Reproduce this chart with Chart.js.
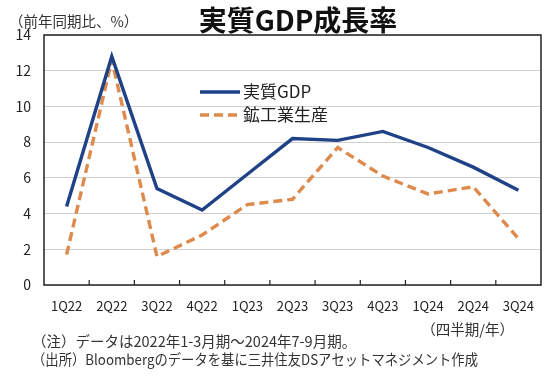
<!DOCTYPE html>
<html lang="ja">
<head>
<meta charset="UTF-8">
<title>実質GDP成長率</title>
<script src="https://cdn.jsdelivr.net/npm/chart.js"></script>
<style>
  html, body { margin: 0; padding: 0; background: #fff; }
  #wrap { width: 550px; height: 376px; position: relative; }
</style>
</head>
<body>
<div id="wrap"><canvas id="chart" width="550" height="376"></canvas></div>
<script>
const quarters = ['1Q22','2Q22','3Q22','4Q22','1Q23','2Q23','3Q23','4Q23','1Q24','2Q24','3Q24'];
const gdp = [4.4, 12.8, 5.4, 4.2, 6.2, 8.2, 8.1, 8.6, 7.7, 6.6, 5.3];
const industry = [1.7, 12.6, 1.6, 2.8, 4.5, 4.8, 7.7, 6.1, 5.1, 5.5, 2.6];
const yTicks = [0, 2, 4, 6, 8, 10, 12, 14];

const FONT = '"Noto Sans CJK JP", "Noto Sans", sans-serif';
const NAVY = '#1f4287';
const ORANGE = '#de8a4c';

const extras = {
  id: 'extras',
  afterDraw(chart) {
    const ctx = chart.ctx, a = chart.chartArea, x = chart.scales.x;
    ctx.save();
    // frame
    ctx.strokeStyle = '#222';
    ctx.lineWidth = 1.5;
    ctx.strokeRect(a.left, a.top, a.right - a.left, a.bottom - a.top);
    // inward category tick marks
    ctx.lineWidth = 1.2;
    for (let i = 1; i < quarters.length; i++) {
      const px = (x.getPixelForValue(i - 1) + x.getPixelForValue(i)) / 2;
      ctx.beginPath();
      ctx.moveTo(px, a.bottom);
      ctx.lineTo(px, a.bottom - 5);
      ctx.stroke();
    }
    // title
    ctx.fillStyle = '#111';
    ctx.textBaseline = 'middle';
    ctx.textAlign = 'center';
    ctx.font = 'bold 28px ' + FONT;
    ctx.fillText('実質GDP成長率', 298, 20);
    // unit
    ctx.textAlign = 'left';
    ctx.fillStyle = '#333';
    ctx.font = '14.5px ' + FONT;
    ctx.fillText('（前年同期比、%）', 9, 21);
    // legend
    const items = [
      { label: '実質GDP', color: NAVY, dash: [], y: 92 },
      { label: '鉱工業生産', color: ORANGE, dash: [9, 5], y: 115 }
    ];
    ctx.font = '17px ' + FONT;
    items.forEach(it => {
      ctx.strokeStyle = it.color;
      ctx.lineWidth = 3.4;
      ctx.setLineDash(it.dash);
      ctx.beginPath();
      ctx.moveTo(200, it.y);
      ctx.lineTo(240, it.y);
      ctx.stroke();
      ctx.setLineDash([]);
      ctx.fillStyle = '#222';
      ctx.fillText(it.label, 243, it.y);
    });
    // axis note + footnotes
    ctx.fillStyle = '#333';
    ctx.font = '14.5px ' + FONT;
    ctx.textAlign = 'right';
    ctx.fillText('（四半期/年）', 514, 329);
    ctx.textAlign = 'left';
    ctx.fillText('（注）データは2022年1-3月期～2024年7-9月期。', 32, 341, 325);
    ctx.fillText('（出所）Bloombergのデータを基に三井住友DSアセットマネジメント作成', 32, 359, 446);
    ctx.restore();
  }
};

new Chart(document.getElementById('chart'), {
  type: 'line',
  data: {
    labels: quarters,
    datasets: [
      { label: '実質GDP', data: gdp, borderColor: NAVY, borderWidth: 3.4,
        pointRadius: 0, tension: 0, fill: false },
      { label: '鉱工業生産', data: industry, borderColor: ORANGE, borderWidth: 3.4,
        borderDash: [9, 5], pointRadius: 0, tension: 0, fill: false }
    ]
  },
  options: {
    responsive: false,
    animation: false,
    layout: { padding: { top: 35, right: 9, left: 0, bottom: 0 } },
    plugins: { legend: { display: false }, tooltip: { enabled: false } },
    scales: {
      x: {
        offset: true,
        grid: { display: false, drawTicks: false },
        border: { display: false },
        ticks: { color: '#222', font: { family: FONT, size: 13 }, padding: 13, maxRotation: 0 },
        afterFit(s) { s.height = 91; }
      },
      y: {
        min: 0, max: 14,
        afterBuildTicks(s) { s.ticks = yTicks.map(v => ({ value: v })); },
        grid: { color: '#d0d0d0', lineWidth: 1, drawTicks: false },
        border: { display: false },
        ticks: { color: '#222', font: { family: FONT, size: 14 }, padding: 13 },
        afterFit(s) { s.width = 44; }
      }
    }
  },
  plugins: [extras]
});
</script>
</body>
</html>
